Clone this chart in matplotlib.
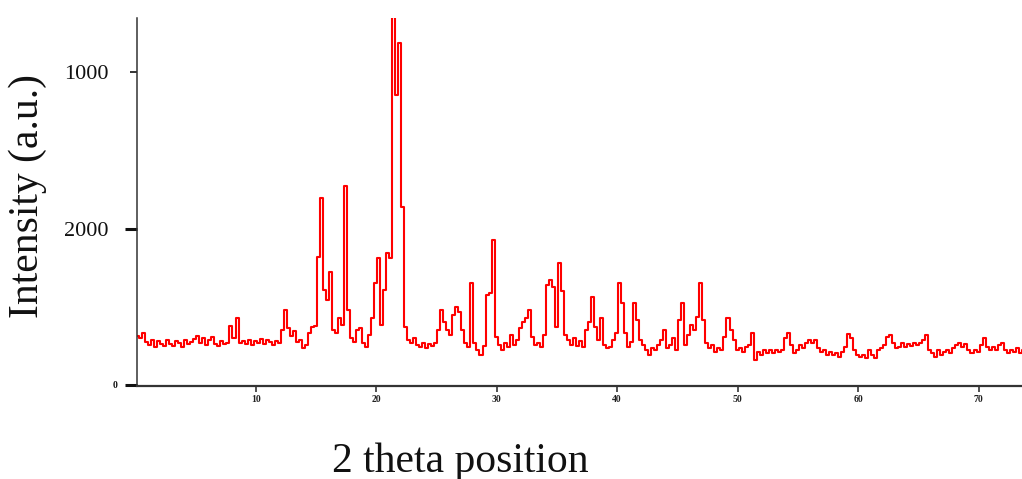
#importing the libraries
import numpy as np
import matplotlib
matplotlib.use('Agg')
import matplotlib.pyplot as plt
import matplotlib.transforms as mtransforms

# scan settings (2 theta, degrees)
two_theta_start = 0.2
two_theta_step = 0.25

# intensity, one value per scan step
intensity = [
    313, 300, 332, 275, 256, 288, 243, 281, 262, 249,
    288, 262, 249, 281, 268, 243, 288, 262, 275, 294,
    313, 268, 300, 256, 288, 307, 262, 249, 281, 262,
    268, 377, 300, 428, 268, 281, 262, 288, 256, 281,
    268, 294, 262, 288, 275, 256, 281, 268, 352, 479,
    364, 313, 345, 275, 288, 236, 256, 332, 371, 377,
    818, 1195, 607, 543, 722, 351, 332, 428, 383, 1272,
    479, 300, 275, 351, 364, 268, 243, 320, 428, 652,
    812, 383, 607, 843, 812, 2352, 1853, 2185, 1137, 371,
    288, 268, 300, 256, 243, 268, 236, 262, 249, 268,
    351, 479, 403, 351, 320, 447, 498, 466, 351, 268,
    243, 652, 268, 224, 192, 249, 575, 588, 927, 307,
    256, 224, 268, 243, 320, 256, 288, 364, 403, 428,
    479, 307, 256, 268, 243, 320, 639, 671, 626, 371,
    780, 600, 320, 288, 256, 300, 249, 281, 243, 351,
    403, 562, 371, 288, 428, 256, 236, 243, 288, 332,
    652, 524, 332, 243, 275, 524, 415, 288, 256, 224,
    192, 236, 224, 256, 288, 351, 236, 256, 300, 224,
    415, 524, 256, 320, 383, 351, 434, 652, 415, 268,
    236, 256, 211, 236, 224, 307, 428, 351, 288, 224,
    236, 211, 243, 256, 332, 160, 211, 192, 224, 204,
    224, 204, 224, 211, 224, 300, 332, 256, 204, 224,
    256, 236, 268, 288, 268, 288, 236, 211, 224, 192,
    211, 192, 204, 179, 211, 243, 326, 300, 224, 192,
    179, 192, 173, 224, 192, 173, 224, 236, 256, 307,
    320, 268, 236, 243, 268, 243, 262, 249, 268, 256,
    268, 288, 320, 224, 204, 179, 224, 192, 211, 224,
    204, 236, 256, 268, 243, 262, 224, 204, 224, 211,
    256, 300, 243, 224, 243, 224, 256, 268, 224, 204,
    224, 211, 236, 204, 224,
]

# axis ticks and their (odd) labels as printed on the original
x_ticks = [10, 20, 30, 40, 50, 60, 70]
x_tick_labels = ['10', '20', '30', '40', '50', '60', '70']
y_ticks = [0, 1000, 2000]
y_tick_labels = ['', '2000', '1000']

two_theta = two_theta_start + two_theta_step * np.arange(len(intensity))

plt.rcParams['font.family'] = ['Liberation Serif', 'DejaVu Serif']

fig = plt.figure(figsize=(10.22, 4.79), dpi=100)
ax = fig.add_axes([137 / 1022, 93 / 479, 885 / 1022, 368 / 479])

# the diffraction pattern
ax.plot(two_theta, intensity, color='#ff0000', linewidth=1.5,
        drawstyle='steps-mid')

ax.set_xlim(0.15, 73.6)
ax.set_ylim(-6, 2347)

# only left and bottom axis lines
ax.spines['top'].set_visible(False)
ax.spines['right'].set_visible(False)
ax.spines['left'].set_color('#333333')
ax.spines['left'].set_linewidth(1.1)
ax.spines['bottom'].set_color('#333333')
ax.spines['bottom'].set_linewidth(1.6)

ax.set_xticks(x_ticks)
ax.set_xticklabels(x_tick_labels, fontsize=7, fontweight='bold')
ax.tick_params(axis='x', direction='out', length=4.5, width=1.1,
               colors='#222222', pad=2)

ax.set_yticks(y_ticks)
ax.set_yticklabels(y_tick_labels, fontsize=16)
ax.tick_params(axis='y', direction='out', length=8.5, width=2.2,
               colors='#111111', pad=12)
# the top tick is drawn thinner and shorter
top_tick = ax.yaxis.get_major_ticks()[2]
top_tick.tick1line.set_markersize(5)
top_tick.tick1line.set_markeredgewidth(1.2)

# the zero label looks like a small bold block
trans = mtransforms.blended_transform_factory(ax.transAxes, ax.transData)
ax.text(-0.025, 0, '0', transform=trans, ha='center', va='center',
        fontsize=7, fontweight='bold', color='#111111')

# axis titles
fig.text(27.5 / 1022, 1 - 196.5 / 479, 'Intensity (a.u.)', rotation=90,
         ha='center', va='center', fontsize=30, color='#111111')
fig.text(460 / 1022, 1 - 472 / 479, '2 theta position', ha='center',
         va='baseline', fontsize=30, color='#111111')

fig.savefig('out.png', dpi=100)
